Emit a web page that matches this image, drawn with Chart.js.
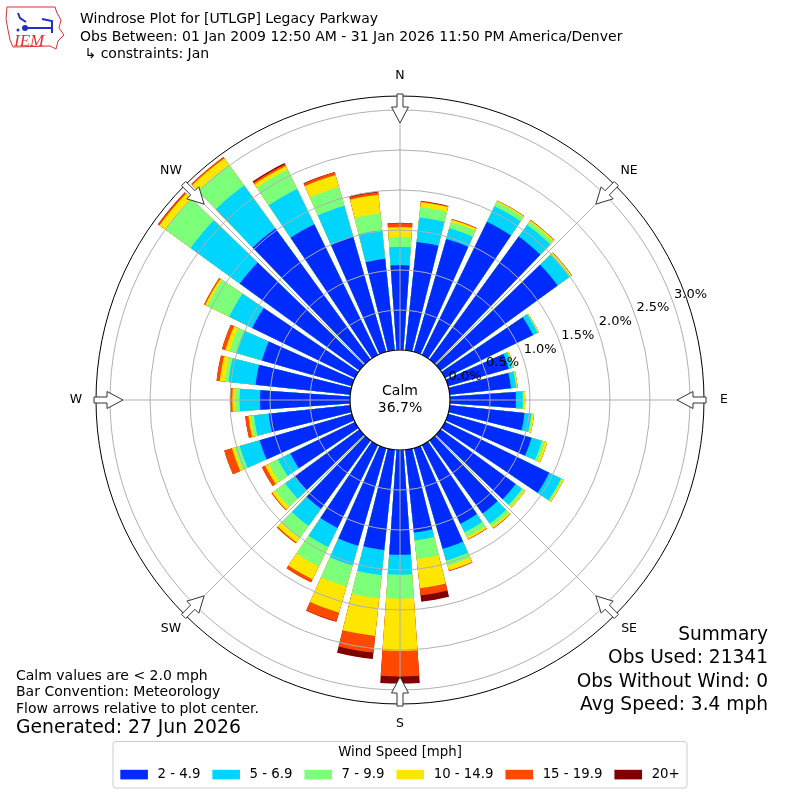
<!DOCTYPE html>
<html>
<head>
<meta charset="utf-8">
<title>Windrose Plot for [UTLGP] Legacy Parkway</title>
<script src="https://cdn.jsdelivr.net/npm/chart.js@4.4.1/dist/chart.umd.min.js"></script>
<style>
  html, body { margin: 0; padding: 0; background: #fff; }
  #rose { display: block; }
</style>
</head>
<body>
<canvas id="rose" width="800" height="800"></canvas>
<script>
// Direction of each bar (degrees, meteorological) and % of obs per speed bin
const directions = [0, 10, 20, 30, 40, 50, 60, 70, 80, 90, 100, 110, 120, 130, 140, 150, 160, 170,
  180, 190, 200, 210, 220, 230, 240, 250, 260, 270, 280, 290, 300, 310, 320, 330, 340, 350];

const speed2to5 = [1.06, 1.36, 1.47, 1.855, 1.90, 1.81, 1.225, 0.79, 0.77, 0.825, 0.94, 1.085,
  1.45, 1.16, 1.13, 1.095, 1.31, 1.04, 1.31, 1.26, 1.27, 1.155, 1.055, 1.0,
  0.90, 1.20, 1.025, 1.125, 1.19, 1.17, 1.43, 1.85, 2.025, 1.82, 1.50, 1.15];
const speed5to7 = [0.23, 0.31, 0.14, 0.215, 0.18, 0.18, 0.065, 0.05, 0.065, 0.085, 0.085, 0.135,
  0.165, 0.10, 0.155, 0.12, 0.155, 0.10, 0.25, 0.315, 0.255, 0.265, 0.265, 0.15,
  0.17, 0.26, 0.185, 0.255, 0.34, 0.335, 0.32, 0.76, 0.665, 0.49, 0.40, 0.36];
const speed7to10 = [0.125, 0.13, 0.08, 0.06, 0.05, 0.02, 0.01, 0.01, 0.01, 0.015, 0.015, 0.04,
  0.015, 0.03, 0.045, 0.065, 0.065, 0.235, 0.30, 0.295, 0.275, 0.27, 0.19, 0.15,
  0.13, 0.065, 0.045, 0.06, 0.045, 0.085, 0.305, 0.39, 0.32, 0.27, 0.245, 0.21];
const speed10to15 = [0.12, 0.06, 0.03, 0.015, 0.02, 0.015, 0.005, 0.01, 0.01, 0.015, 0.02, 0.03,
  0.02, 0.02, 0.025, 0.03, 0.06, 0.365, 0.65, 0.47, 0.34, 0.18, 0.065, 0.05,
  0.05, 0.035, 0.025, 0.03, 0.065, 0.055, 0.03, 0.09, 0.10, 0.05, 0.155, 0.235];
const speed15to20 = [0.05, 0.01, 0.01, 0.005, 0.005, 0.005, 0, 0, 0, 0, 0, 0,
  0, 0, 0.005, 0.005, 0.01, 0.09, 0.32, 0.21, 0.115, 0.04, 0.015, 0.01,
  0.045, 0.10, 0.04, 0.03, 0.04, 0.045, 0.015, 0.02, 0.02, 0.025, 0.035, 0.03];
const speed20plus = [0.005, 0.005, 0, 0, 0, 0, 0, 0, 0, 0, 0, 0,
  0, 0, 0, 0, 0, 0.08, 0.09, 0.08, 0.005, 0, 0, 0,
  0, 0, 0, 0, 0, 0, 0, 0.005, 0, 0.015, 0.005, 0.015];

const speedLabels = ["2 - 4.9", "5 - 6.9", "7 - 9.9", "10 - 14.9", "15 - 19.9", "20+"];
const speedColors = ["#002bff", "#00d5ff", "#7cff79", "#ffe600", "#ff4900", "#800000"];
const compassLabels = ["N", "NE", "E", "SE", "S", "SW", "W", "NW"];
const radialTicks = [0, 0.5, 1.0, 1.5, 2.0, 2.5, 3.0];
const calmPercent = 36.7;

// radial value range: negative min leaves room for the calm circle
const R_MIN = -0.625;
const R_MAX = 3.175;
const BAR_WIDTH = 8;   // degrees
const GAP_WIDTH = 2;   // degrees

const FONT = '"DejaVu Sans", sans-serif';

// cumulative totals so that later bins sit outside earlier ones
const bins = [speed2to5, speed5to7, speed7to10, speed10to15, speed15to20, speed20plus];
const cumulative = [];
bins.forEach((b, k) => {
  cumulative.push(b.map((v, i) => (k > 0 ? cumulative[k - 1][i] : 0) + v));
});

// arc list: N is split in two halves around 0 deg so the scale can start at north
function buildArcs(values) {
  const data = [values[0]];
  const angles = [BAR_WIDTH / 2];
  for (let i = 1; i < values.length; i++) {
    data.push(R_MIN, values[i]);
    angles.push(GAP_WIDTH, BAR_WIDTH);
  }
  data.push(R_MIN, values[0]);
  angles.push(GAP_WIDTH, BAR_WIDTH / 2);
  return { data, angles };
}

const datasets = speedLabels.map((label, k) => {
  const arcs = buildArcs(cumulative[k]);
  return {
    label: label,
    data: arcs.data,
    angle: arcs.angles,
    backgroundColor: speedColors[k],
    borderWidth: 0
  };
});

function drawLogo(ctx) {
  ctx.save();
  ctx.strokeStyle = "#e03030";
  ctx.lineWidth = 1;
  ctx.beginPath();
  const pts = [[7, 7], [55, 7], [57, 13], [61, 20], [59, 28], [64, 35], [58, 41], [56, 49],
    [50, 46], [13, 47], [10, 40], [8, 30], [6, 19]];
  pts.forEach((p, i) => (i ? ctx.lineTo(p[0], p[1]) : ctx.moveTo(p[0], p[1])));
  ctx.closePath();
  ctx.stroke();
  ctx.strokeStyle = "#2030c0";
  ctx.fillStyle = "#2030c0";
  ctx.lineWidth = 2;
  ctx.beginPath();
  ctx.moveTo(18, 13); ctx.lineTo(20, 18); ctx.lineTo(26, 22);
  ctx.moveTo(24, 28); ctx.lineTo(52, 28);
  ctx.moveTo(42, 19); ctx.lineTo(52, 21); ctx.lineTo(52, 33);
  ctx.stroke();
  ctx.beginPath(); ctx.arc(25, 28, 3, 0, Math.PI * 2); ctx.fill();
  ctx.beginPath(); ctx.arc(18, 30, 1.5, 0, Math.PI * 2); ctx.fill();
  ctx.fillStyle = "#e03030";
  ctx.font = 'italic 17px "Liberation Serif", serif';
  ctx.textAlign = "left";
  ctx.textBaseline = "alphabetic";
  ctx.fillText("IEM", 14, 46);
  ctx.restore();
}

const roseDecor = {
  id: "roseDecor",
  beforeDraw(chart) {
    const ctx = chart.ctx;
    ctx.save();
    ctx.fillStyle = "#ffffff";
    ctx.fillRect(0, 0, chart.width, chart.height);
    ctx.restore();
  },
  afterDraw(chart) {
    const s = chart.scales.r;
    const ctx = chart.ctx;
    const cx = s.xCenter, cy = s.yCenter, R = s.drawingArea;
    ctx.save();

    // outer frame
    ctx.strokeStyle = "#000";
    ctx.lineWidth = 1;
    ctx.beginPath();
    ctx.arc(cx, cy, R, 0, Math.PI * 2);
    ctx.stroke();

    // radial tick labels
    ctx.fillStyle = "#000";
    ctx.font = "13px " + FONT;
    ctx.textAlign = "left";
    ctx.textBaseline = "alphabetic";
    const la = 20 * Math.PI / 180;
    radialTicks.forEach(v => {
      const d = s.getDistanceFromCenterForValue(v);
      ctx.fillText(v.toFixed(1) + "%", cx + d * Math.cos(la) + 1.5, cy - d * Math.sin(la) - 3);
    });

    // calm circle
    const rc = s.getDistanceFromCenterForValue(0);
    ctx.beginPath();
    ctx.arc(cx, cy, rc, 0, Math.PI * 2);
    ctx.fillStyle = "#fff";
    ctx.fill();
    ctx.strokeStyle = "#000";
    ctx.lineWidth = 1.2;
    ctx.stroke();
    ctx.fillStyle = "#000";
    ctx.font = "14px " + FONT;
    ctx.textAlign = "center";
    ctx.textBaseline = "middle";
    ctx.fillText("Calm", cx, cy - 9);
    ctx.fillText(calmPercent.toFixed(1) + "%", cx, cy + 8);

    // compass arrows and labels
    compassLabels.forEach((lab, i) => {
      const a = i * 45 * Math.PI / 180;
      const sa = Math.sin(a), ca = Math.cos(a);
      const pt = (r, p) => [cx + r * sa + p * ca, cy - r * ca + p * sa];
      const shape = [[R + 2, -3], [R - 11, -3], [R - 11, -8.5], [R - 27, 0],
        [R - 11, 8.5], [R - 11, 3], [R + 2, 3]];
      ctx.beginPath();
      shape.forEach((q, j) => {
        const p = pt(q[0], q[1]);
        j ? ctx.lineTo(p[0], p[1]) : ctx.moveTo(p[0], p[1]);
      });
      ctx.closePath();
      ctx.fillStyle = "#fff";
      ctx.fill();
      ctx.strokeStyle = "#333";
      ctx.lineWidth = 1;
      ctx.stroke();

      const lp = pt(R + 20, 0);
      ctx.fillStyle = "#000";
      ctx.font = "12.5px " + FONT;
      ctx.textAlign = "center";
      ctx.textBaseline = "middle";
      ctx.fillText(lab, lp[0], lp[1]);
    });

    // header
    drawLogo(ctx);
    ctx.fillStyle = "#000";
    ctx.textAlign = "left";
    ctx.textBaseline = "middle";
    ctx.font = "14px " + FONT;
    ctx.fillText("Windrose Plot for [UTLGP] Legacy Parkway", 80, 19);
    ctx.fillText("Obs Between: 01 Jan 2009 12:50 AM - 31 Jan 2026 11:50 PM America/Denver", 80, 37);
    ctx.fillText(" \u21b3 constraints: Jan", 80, 54);

    // notes
    ctx.fillText("Calm values are < 2.0 mph", 16, 676);
    ctx.fillText("Bar Convention: Meteorology", 16, 692.7);
    ctx.fillText("Flow arrows relative to plot center.", 16, 709.4);
    ctx.font = "18.8px " + FONT;
    ctx.fillText("Generated: 27 Jun 2026", 16, 728);

    // summary
    ctx.textAlign = "right";
    ctx.font = "18.6px " + FONT;
    ["Summary", "Obs Used: 21341", "Obs Without Wind: 0", "Avg Speed: 3.4 mph"].forEach((t, i) => {
      ctx.fillText(t, 768, 635 + i * 23.4);
    });

    // legend
    const bx = 113, by = 741.5, bw = 574, bh = 46.5;
    ctx.beginPath();
    ctx.roundRect(bx, by, bw, bh, 3);
    ctx.fillStyle = "#fff";
    ctx.fill();
    ctx.strokeStyle = "#cccccc";
    ctx.lineWidth = 1;
    ctx.stroke();
    ctx.fillStyle = "#000";
    ctx.textAlign = "center";
    ctx.font = "13.3px " + FONT;
    ctx.fillText("Wind Speed [mph]", bx + bw / 2, 753);
    const patchW = 27.6, pad = 9.6, colGap = 12;
    let total = 0;
    speedLabels.forEach(l => { total += patchW + pad + ctx.measureText(l).width; });
    total += colGap * (speedLabels.length - 1);
    let x = bx + bw / 2 - total / 2;
    ctx.textAlign = "left";
    speedLabels.forEach((l, k) => {
      ctx.fillStyle = speedColors[k];
      ctx.fillRect(x, 769.8, patchW, 9.6);
      ctx.fillStyle = "#000";
      ctx.fillText(l, x + patchW + pad, 774.6);
      x += patchW + pad + ctx.measureText(l).width + colGap;
    });

    ctx.restore();
  }
};

const ctx = document.getElementById("rose").getContext("2d");
const roseChart = new Chart(ctx, {
  type: "polarArea",
  data: {
    labels: compassLabels,
    datasets: datasets
  },
  options: {
    responsive: false,
    animation: false,
    layout: { padding: 96 },
    plugins: {
      legend: { display: false },
      tooltip: { enabled: false }
    },
    scales: {
      r: {
        min: R_MIN,
        max: R_MAX,
        startAngle: 0,
        afterBuildTicks: (scale) => {
          scale.ticks = radialTicks.map(v => ({ value: v }));
        },
        ticks: { display: false },
        grid: { circular: true, color: "#b0b0b0", lineWidth: 1, z: 1 },
        angleLines: { display: true, color: "#b0b0b0", lineWidth: 1 },
        pointLabels: { display: false }
      }
    }
  },
  plugins: [roseDecor]
});
</script>
</body>
</html>
